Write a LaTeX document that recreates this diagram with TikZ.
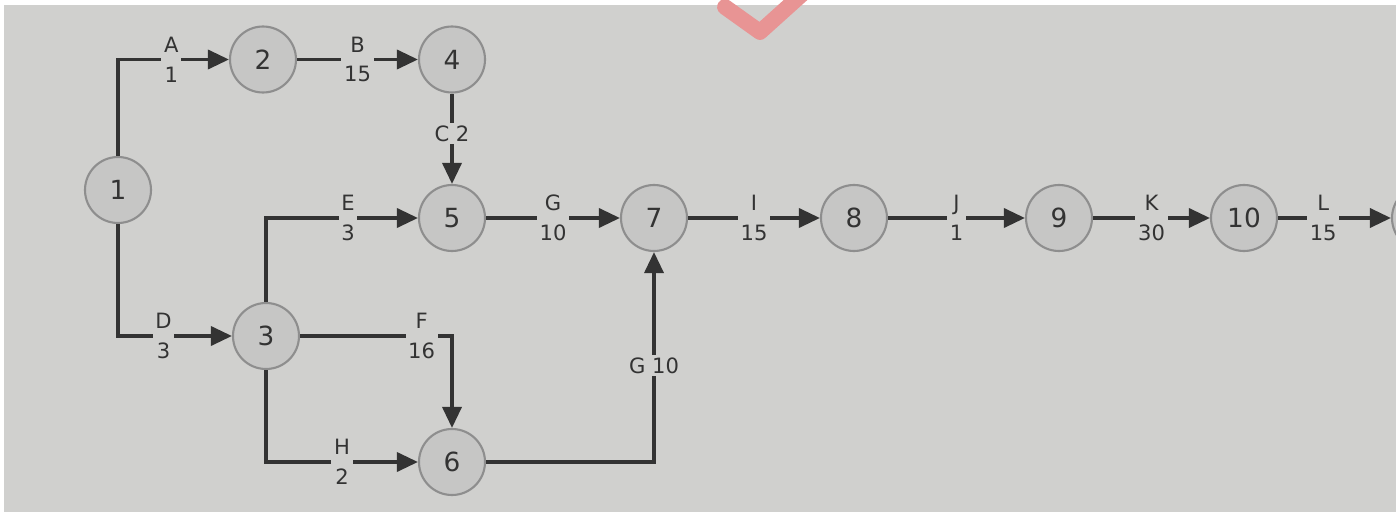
\documentclass[tikz,border=0pt]{standalone}
\usepackage{fontspec}
\setmainfont{DejaVu Sans}
\usepackage{tikz}
\usetikzlibrary{arrows.meta}
\usetikzlibrary{calc}

\definecolor{paper}{HTML}{D0D0CE}
\definecolor{ink}{HTML}{333333}
\definecolor{circlefill}{HTML}{C6C6C5}
\definecolor{circledraw}{HTML}{8E8E8E}
\definecolor{tick}{HTML}{E89494}

\begin{document}
\begin{tikzpicture}[line width=2pt,
        node_style/.style={circle,draw=circledraw,line width=1.2pt,fill=circlefill,minimum size=1.32cm,inner sep=0pt,text=ink,font=\fontsize{15}{17}\selectfont},
        label_style/.style={fill=paper,inner sep=1.5pt,align=center,text=ink,font=\fontsize{12}{17}\selectfont},
        edge_style/.style={draw=ink,-{Triangle[length=0.42cm,width=0.38cm]}}]

        % background of the photo
        \useasboundingbox (0,0) rectangle (27.92,10.24);
        \fill [white] (0,0) rectangle (27.92,10.24);
        \fill [paper] (0.08,0) rectangle (27.92,10.14);
        \draw [tick,line width=9pt,line cap=round,line join=round] (14.5,10.1) -- (15.2,9.6) -- (16.2,10.5);

        \node [node_style](n1) at (2.36,6.44) {1};

        \node [node_style](n2) at (5.26,9.05) {2};

        \node [node_style](n4) at (9.04,9.05) {4};

        \node [node_style](n5) at (9.04,5.88) {5};

        \node [node_style](n3) at (5.32,3.52) {3};

        \node [node_style](n6) at (9.04,1.00) {6};

        \node [node_style](n7) at (13.08,5.88) {7};

        \node [node_style](n8) at (17.08,5.88) {8};

        \node [node_style](n9) at (21.18,5.88) {9};

        \node [node_style](n10) at (24.88,5.88) {10};

        \node [node_style](n11) at (28.50,5.88) {};

        \draw [edge_style] (n1) |- node[label_style,pos=0.74]{A\\1} (n2);

        \draw [edge_style] (n2) -- node[label_style]{B\\15} (n4);

        \draw [edge_style] (n4) -- node[label_style,pos=0.44]{C 2} (n5);

        \draw [edge_style] (n1) |- node[label_style,pos=0.70]{D\\3} (n3);

        \draw [edge_style] (n3) |- node[label_style,pos=0.77]{E\\3} (n5);

        \draw [edge_style] (n3) -| node[label_style,pos=0.40]{F\\16} (n6);

        \draw [edge_style] (n3) |- node[label_style,pos=0.75]{H\\2} (n6);

        \draw [edge_style] (n5) -- node[label_style]{G\\10} (n7);

        \draw [edge_style] (n6) -| node[label_style,pos=0.73]{G 10} (n7);

        \draw [edge_style] (n7) -- node[label_style]{I\\15} (n8);

        \draw [edge_style] (n8) -- node[label_style]{J\\1} (n9);

        \draw [edge_style] (n9) -- node[label_style]{K\\30} (n10);

        \draw [edge_style] (n10) -- node[label_style,pos=0.40]{L\\15} (n11);

        \end{tikzpicture}
\end{document}
